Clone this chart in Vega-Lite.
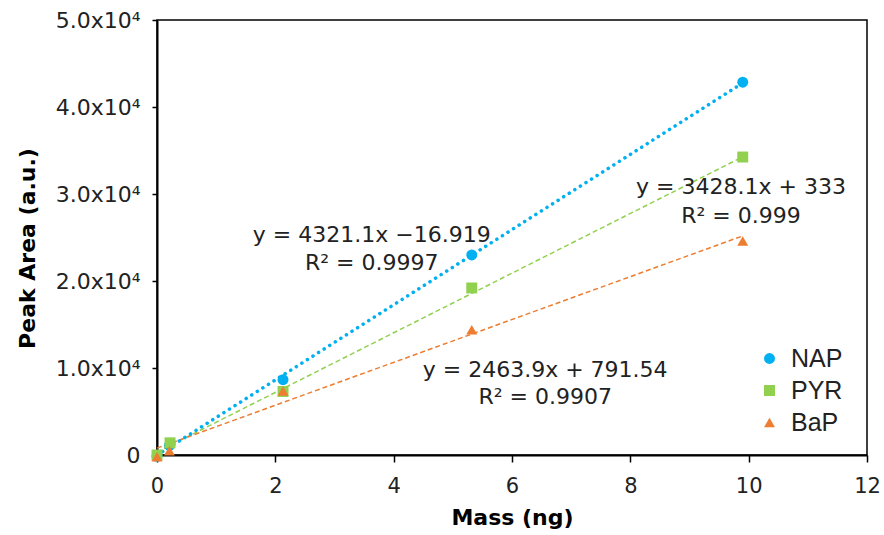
{
  "$schema": "https://vega.github.io/schema/vega-lite/v6.json",
  "autosize": "none",
  "width": 710,
  "height": 435,
  "padding": {"left": 157, "top": 20, "right": 17, "bottom": 80},
  "background": "white",
  "config": {
    "font": "DejaVu Sans",
    "view": {"stroke": "black", "strokeWidth": 1.5}
  },
  "datasets": {
    "points": [
      {"series": "NAP", "mass": 0.0, "area": -150},
      {"series": "NAP", "mass": 0.21, "area": 1100},
      {"series": "NAP", "mass": 2.13, "area": 8650},
      {"series": "NAP", "mass": 5.32, "area": 23000},
      {"series": "NAP", "mass": 9.9, "area": 42850},
      {"series": "PYR", "mass": 0.0, "area": 0},
      {"series": "PYR", "mass": 0.22, "area": 1400},
      {"series": "PYR", "mass": 2.13, "area": 7300},
      {"series": "PYR", "mass": 5.32, "area": 19200},
      {"series": "PYR", "mass": 9.9, "area": 34250},
      {"series": "BaP", "mass": 0.0, "area": -200},
      {"series": "BaP", "mass": 0.21, "area": 500},
      {"series": "BaP", "mass": 2.13, "area": 7350},
      {"series": "BaP", "mass": 5.32, "area": 14400},
      {"series": "BaP", "mass": 9.9, "area": 24600}
    ],
    "trend": [
      {"series": "NAP", "mass": 0.0, "area": -16.9},
      {"series": "NAP", "mass": 9.9, "area": 42762},
      {"series": "PYR", "mass": 0.0, "area": 333},
      {"series": "PYR", "mass": 9.9, "area": 34271},
      {"series": "BaP", "mass": 0.0, "area": 791.5},
      {"series": "BaP", "mass": 9.9, "area": 25184}
    ],
    "labels": [
      {"mass": 3.63, "area": 25290, "text": "y = 4321.1x −16.919"},
      {"mass": 3.63, "area": 22070, "text": "R² = 0.9997"},
      {"mass": 9.87, "area": 30800, "text": "y = 3428.1x + 333"},
      {"mass": 9.87, "area": 27470, "text": "R² = 0.999"},
      {"mass": 6.56, "area": 9770, "text": "y = 2463.9x + 791.54"},
      {"mass": 6.56, "area": 6670, "text": "R² = 0.9907"}
    ]
  },
  "layer": [
    {
      "data": {"name": "trend"},
      "transform": [{"filter": "datum.series == 'PYR'"}],
      "mark": {"type": "line", "color": "#92D050", "strokeWidth": 1.5, "strokeDash": [5, 3], "clip": false},
      "encoding": {
        "x": {"field": "mass", "type": "quantitative", "scale": {"domain": [0, 12], "nice": false}},
        "y": {"field": "area", "type": "quantitative", "scale": {"domain": [0, 50000], "nice": false}}
      }
    },
    {
      "data": {"name": "trend"},
      "transform": [{"filter": "datum.series == 'BaP'"}],
      "mark": {"type": "line", "color": "#ED7D31", "strokeWidth": 1.5, "strokeDash": [5, 3], "clip": false},
      "encoding": {
        "x": {"field": "mass", "type": "quantitative"},
        "y": {"field": "area", "type": "quantitative"}
      }
    },
    {
      "data": {"name": "trend"},
      "transform": [{"filter": "datum.series == 'NAP'"}],
      "mark": {"type": "line", "color": "#00B0F0", "strokeWidth": 3.5, "strokeDash": [0.1, 6.5], "strokeCap": "round", "clip": false},
      "encoding": {
        "x": {"field": "mass", "type": "quantitative"},
        "y": {"field": "area", "type": "quantitative"}
      }
    },
    {
      "data": {"name": "points"},
      "mark": {"type": "point", "filled": true, "opacity": 1, "clip": false},
      "encoding": {
        "x": {
          "field": "mass", "type": "quantitative",
          "axis": {
            "title": "Mass (ng)", "titleFontSize": 22, "titleFontWeight": "bold", "titleColor": "black",
            "titlePadding": 11, "format": "d",
            "values": [0, 2, 4, 6, 8, 10, 12], "grid": false,
            "domainColor": "black", "domainWidth": 2, "tickColor": "black", "tickWidth": 1.5, "tickSize": 7,
            "labelFontSize": 21, "labelColor": "#222", "labelPadding": 13, "labelFlush": false
          }
        },
        "y": {
          "field": "area", "type": "quantitative",
          "axis": {
            "title": "Peak Area (a.u.)", "titleFontSize": 22, "titleFontWeight": "bold", "titleColor": "black",
            "titleX": -130, "titleY": 228, "titleAngle": -90, "titleAlign": "center", "titleBaseline": "middle",
            "values": [0, 10000, 20000, 30000, 40000, 50000], "grid": false,
            "labelExpr": "datum.value == 0 ? '0' : format(datum.value / 10000, '.1f') + 'x10⁴'",
            "domainColor": "black", "domainWidth": 2, "tickColor": "black", "tickWidth": 1.5, "tickSize": 5,
            "labelFontSize": 22, "labelColor": "#222", "labelPadding": 12, "labelFlush": false
          }
        },
        "color": {
          "field": "series", "type": "nominal",
          "scale": {"domain": ["NAP", "PYR", "BaP"], "range": ["#00B0F0", "#92D050", "#ED7D31"]},
          "legend": {
            "title": null, "orient": "none", "legendX": 600, "legendY": 326,
            "labelFont": "Liberation Sans", "labelFontSize": 25, "labelColor": "#222", "symbolSize": 120, "rowPadding": 6, "labelOffset": 9
          }
        },
        "shape": {
          "field": "series", "type": "nominal",
          "scale": {"domain": ["NAP", "PYR", "BaP"], "range": ["circle", "square", "triangle-up"]}
        },
        "size": {"value": 120}
      }
    },
    {
      "data": {"name": "labels"},
      "mark": {"type": "text", "fontSize": 22, "color": "#222", "align": "center", "baseline": "middle"},
      "encoding": {
        "x": {"field": "mass", "type": "quantitative"},
        "y": {"field": "area", "type": "quantitative"},
        "text": {"field": "text"}
      }
    }
  ]
}
